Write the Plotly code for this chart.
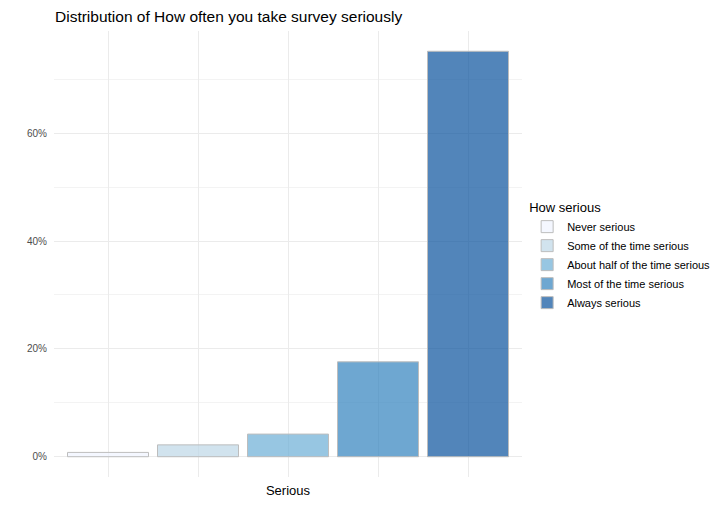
import plotly.graph_objects as go

# --- data ---
categories = [
    "Never serious",
    "Some of the time serious",
    "About half of the time serious",
    "Most of the time serious",
    "Always serious",
]
shares = [0.8, 2.2, 4.2, 17.6, 75.2]  # percent of respondents
fills = [
    "rgba(239,243,255,0.7)",
    "rgba(189,215,231,0.7)",
    "rgba(107,174,214,0.7)",
    "rgba(49,130,189,0.7)",
    "rgba(8,81,156,0.7)",
]
y_ticks = [0, 20, 40, 60]
y_labels = ["0%", "20%", "40%", "60%"]

FONT = "Liberation Sans, Helvetica, Arial, sans-serif"

# page body adds 8px, so margins are shifted to compensate
fig = go.Figure()
for cat, val, col in zip(categories, shares, fills):
    fig.add_trace(go.Bar(
        x=[cat], y=[val], name=cat, width=0.9,
        marker=dict(color=col, line=dict(color="#bdbdbd", width=1)),
        hovertemplate="%{x}<br>%{y:.1f}%<extra></extra>",
    ))

fig.update_layout(
    width=722, height=506,
    barmode="relative",
    plot_bgcolor="white", paper_bgcolor="white",
    margin=dict(l=46, r=208, t=23, b=37, autoexpand=False),
    font=dict(family=FONT, size=11, color="#000000"),
    title=dict(
        text="Distribution of How often you take survey seriously",
        x=47 / 722, xref="container", xanchor="left",
        y=1 - 3 / 506, yref="container", yanchor="top", pad=dict(t=0),
        font=dict(size=15.5, color="#000000"),
    ),
    legend=dict(
        title=dict(text="How serious", font=dict(size=13)),
        x=1.011, xanchor="left", y=0.495, yanchor="middle",
        font=dict(size=11), tracegroupgap=0,
        bgcolor="rgba(0,0,0,0)",
    ),
    showlegend=True,
)

fig.update_xaxes(
    type="category", categoryorder="array", categoryarray=categories,
    range=[-0.6, 4.6], automargin=False,
    showticklabels=False, ticks="",
    showgrid=True, gridcolor="#ebebeb", gridwidth=1,
    zeroline=False, showline=False,
    title=dict(text="Serious", font=dict(size=13), standoff=8),
)
fig.update_yaxes(
    range=[-3.76, 78.96], automargin=False,
    tickvals=y_ticks, ticktext=y_labels,
    tickfont=dict(size=10, color="#4d4d4d"), ticklabelstandoff=6,
    showgrid=True, gridcolor="#ebebeb", gridwidth=1,
    minor=dict(dtick=10, tick0=0, showgrid=True, gridcolor="#f3f3f3", gridwidth=1),
    zeroline=False, showline=False, ticks="",
)

fig.write_html("out.html")
